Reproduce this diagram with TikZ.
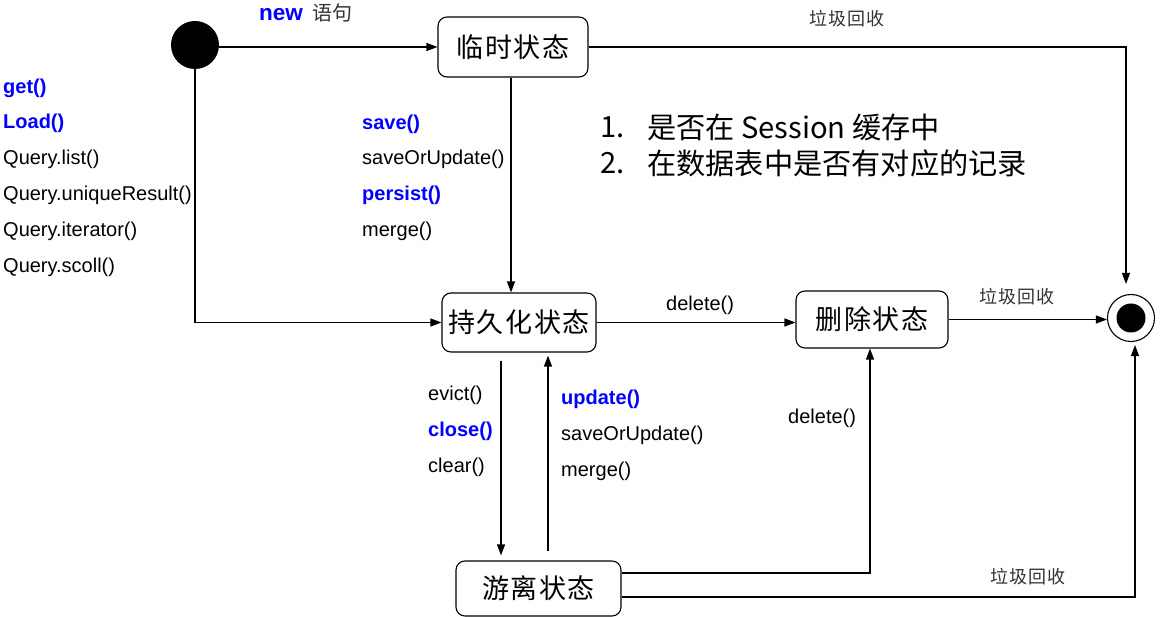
\documentclass[tikz,border=0pt]{standalone}
\usepackage{fontspec}
\setsansfont{Liberation Sans}
\newfontfamily\cjk{Noto Sans CJK SC}
\newfontfamily\cjkls[LetterSpace=6]{Noto Sans CJK SC}
\usetikzlibrary{arrows.meta}
\begin{document}
\begin{tikzpicture}[x=1pt,y=-1pt,
  conn/.style={line width=1.1pt,draw=black},
  arr/.style={conn,-{Triangle[length=11pt,width=8pt]}},
  state/.style={draw,line width=1.1pt,rounded corners=9pt,inner sep=0pt,
    font=\cjkls\fontsize{27}{30}\selectfont},
  lbl/.style={anchor=base west,inner sep=0pt,font=\sffamily\fontsize{20}{23}\selectfont},
  blu/.style={lbl,text=blue,font=\sffamily\bfseries\fontsize{20}{23}\selectfont},
  gc/.style={inner sep=0pt,font=\cjkls\fontsize{18}{20}\selectfont,text=black!80},
  big/.style={anchor=west,inner sep=0pt,font=\cjk\fontsize{29.2}{32}\selectfont}]
\useasboundingbox (0,0) rectangle (1160,617);

% states
\node[circle,fill=black,minimum size=48pt,inner sep=0pt] (init) at (195,45) {};
\node[state,minimum width=150pt,minimum height=60pt] (temp) at (513,47) {临时状态};
\node[state,minimum width=154pt,minimum height=59pt] (pers) at (519,322.5) {持久化状态};
\node[state,minimum width=152pt,minimum height=57pt] (del) at (872,319.5) {删除状态};
\node[state,minimum width=165pt,minimum height=55pt] (det) at (538.5,588.5) {游离状态};
\node[circle,draw,line width=1.1pt,minimum size=47pt,inner sep=0pt] (final) at (1131,318) {};
\node[circle,fill=black,minimum size=29pt,inner sep=0pt] (finalin) at (final.center) {};

% connectors
\coordinate (gcTop) at (1126,284);
\draw[arr] (init.east |- temp.west) -- (temp.west);
\draw[arr] (temp.east) -| (gcTop);
\draw[arr] (init.south) |- (pers.west);
\draw[arr] ([xshift=-2pt]temp.south) -- ([xshift=-8pt]pers.north);
\draw[arr] (pers.east) -- (pers.east -| del.west);
\draw[arr] (del.east) -- (del.east -| final.west);
\draw[arr] ([xshift=-18pt,yshift=-8pt]pers.south) -- ([xshift=-37.5pt,yshift=5pt]det.north);
\draw[arr] ([xshift=9.5pt,yshift=9pt]det.north) -- ([xshift=29pt,yshift=-3pt]pers.south);
\draw[arr] ([yshift=15.5pt]det.east) -| ([xshift=-2pt]del.south);
\draw[arr] ([yshift=-8.5pt]det.east) -| ([xshift=4pt,yshift=-3pt]final.south);

% labels
\node[anchor=base west,inner sep=0pt,text=blue,font=\sffamily\bfseries\fontsize{22.5}{25}\selectfont] (newl) at (259,21) {new};
\node[anchor=base west,inner sep=0pt,font=\cjk\fontsize{20}{22}\selectfont,text=black!80] (newz) at (312,21) {语句};
\node[gc] (gc1) at (847,19) {垃圾回收};
\node[gc] (gc2) at (1017,297) {垃圾回收};
\node[gc] (gc3) at (1028,577) {垃圾回收};

\node[blu] (l1) at (3,94) {get()};
\node[blu] (l2) at (3,129) {Load()};
\node[lbl] (l3) at (3,165) {Query.list()};
\node[lbl] (l4) at (3,201) {Query.uniqueResult()};
\node[lbl] (l5) at (3,237) {Query.iterator()};
\node[lbl] (l6) at (3,273) {Query.scoll()};

\node[blu] (s1) at (362,130) {save()};
\node[lbl] (s2) at (362,165) {saveOrUpdate()};
\node[blu] (s3) at (362,201) {persist()};
\node[lbl] (s4) at (362,237) {merge()};

\node[big] (n1) at (600,127) {1.};
\node[big] (t1) at (647,127) {是否在 Session 缓存中};
\node[big] (n2) at (600,163) {2.};
\node[big] (t2) at (647,163) {在数据表中是否有对应的记录};

\node[lbl] (d1) at (666,311) {delete()};

\node[lbl] (e1) at (428,401) {evict()};
\node[blu] (e2) at (428,437) {close()};
\node[lbl] (e3) at (428,473) {clear()};

\node[blu] (u1) at (561,405) {update()};
\node[lbl] (u2) at (561,441) {saveOrUpdate()};
\node[lbl] (u3) at (561,477) {merge()};

\node[lbl] (d2) at (788,424) {delete()};
\end{tikzpicture}
\end{document}
